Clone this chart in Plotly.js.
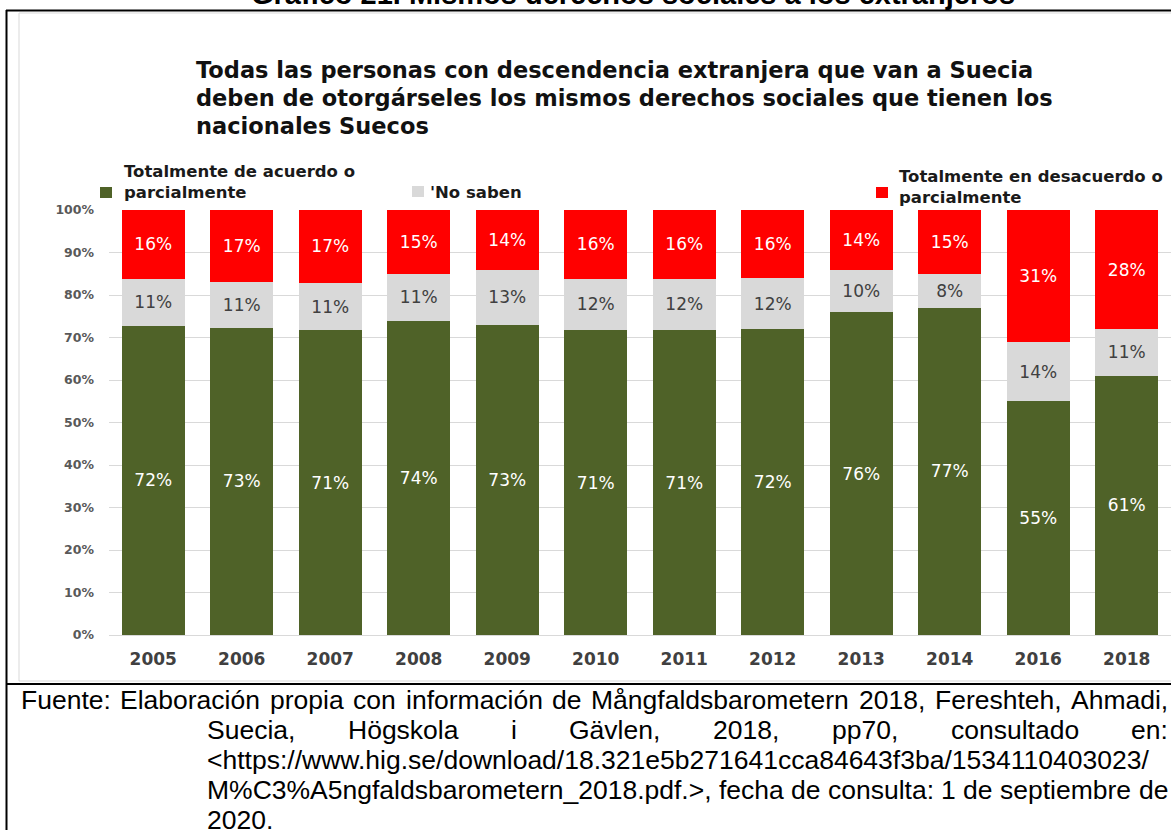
<!DOCTYPE html>
<html>
<head>
<meta charset="utf-8">
<script src="https://cdn.plot.ly/plotly-3.0.1.min.js"></script>
<style>
html,body{margin:0;padding:0;background:#ffffff;}
#chart{width:1171px;height:830px;}
</style>
</head>
<body>
<div id="chart"></div>
<script>
// ---- Data ----
const years = ['2005','2006','2007','2008','2009','2010','2011','2012','2013','2014','2016','2018'];
const acuerdo    = [72,73,71,74,73,71,71,72,76,77,55,61];
const noSaben    = [11,11,11,11,13,12,12,12,10,8,14,11];
const desacuerdo = [16,17,17,15,14,16,16,16,14,15,31,28];
const seriesNames = ['Totalmente de acuerdo o parcialmente', "'No saben", 'Totalmente en desacuerdo o parcialmente'];
const legendLines = [['Totalmente de acuerdo o','parcialmente'], ["'No saben"], ['Totalmente en desacuerdo o','parcialmente']];
const topTitle = 'Gráfico 21. Mismos derechos sociales a los extranjeros';
const subtitleLines = [
  'Todas las personas con descendencia extranjera que van a Suecia',
  'deben de otorgárseles los mismos derechos sociales que tienen los',
  'nacionales Suecos'
];
const sourceLines = [
  'Fuente: Elaboración propia con información de Mångfaldsbarometern 2018, Fereshteh, Ahmadi,',
  'Suecia, Högskola i Gävlen, 2018, pp70, consultado en:',
  '<https://www.hig.se/download/18.321e5b271641cca84643f3ba/1534110403023/',
  'M%C3%A5ngfaldsbarometern_2018.pdf.>, fecha de consulta: 1 de septiembre de',
  '2020.'
];

// ---- Geometry helpers ----
const W = 1171, H = 830;
const px = x => x / W;
const py = y => 1 - y / H;

const colors = ['#4F6228', '#D9D9D9', '#FF0000'];
const labelColors = ['#ffffff', '#404040', '#ffffff'];
const FONT = 'DejaVu Sans';

const seriesVals = [acuerdo, noSaben, desacuerdo];
const traces = seriesVals.map((vals, i) => ({
  type: 'bar',
  x: years,
  y: vals,
  name: seriesNames[i],
  marker: {color: colors[i], line: {width: 0}},
  text: vals.map(v => v + '%'),
  textposition: 'inside',
  insidetextanchor: 'middle',
  textangle: 0,
  constraintext: 'none',
  textfont: {family: FONT, size: 17, color: labelColors[i]},
  hoverinfo: 'skip'
}));

const annotations = [];
const shapes = [];

// Top (cut) title
annotations.push({
  xref: 'paper', yref: 'paper', x: px(633), y: py(-6), xanchor: 'center', yanchor: 'middle',
  text: '<b>' + topTitle + '</b>', showarrow: false,
  font: {family: 'Liberation Sans', size: 29, color: '#000000'}
});

// Subtitle
const subY = [70, 98, 126];
subtitleLines.forEach((t, i) => {
  annotations.push({
    xref: 'paper', yref: 'paper', x: px(195), y: py(subY[i]), xanchor: 'left', yanchor: 'middle',
    text: t, showarrow: false, borderpad: 0,
    font: {family: FONT, size: 22.5, color: '#111111', weight: 'bold'}
  });
});

// Legend (custom)
const legSq = [[100, 187], [412, 186], [876, 187]];
const legTextX = [123, 429, 898];
const legTextY = [[172, 193], [192], [176, 197]];
legendLines.forEach((lines, i) => {
  shapes.push({
    type: 'rect', xref: 'paper', yref: 'paper',
    x0: px(legSq[i][0]), x1: px(legSq[i][0] + 12), y0: py(legSq[i][1]), y1: py(legSq[i][1] + 11),
    fillcolor: colors[i], line: {width: 0}
  });
  lines.forEach((t, j) => {
    annotations.push({
      xref: 'paper', yref: 'paper', x: px(legTextX[i]), y: py(legTextY[i][j]), xanchor: 'left', yanchor: 'middle',
      text: t, showarrow: false, borderpad: 0,
      font: {family: FONT, size: 16.5, color: '#1a1a1a', weight: 'bold'}
    });
  });
});

// Source text (justified lines)
const canvas = document.createElement('canvas');
const ctx = canvas.getContext('2d');
const SRC_SIZE = 26.5;
ctx.font = SRC_SIZE + 'px "Liberation Sans"';
const srcLayout = [
  {x0: 20, x1: 1167, y: 700, justify: true},
  {x0: 206, x1: 1167, y: 730, justify: true},
  {x0: 206, x1: 1167, y: 760, justify: false},
  {x0: 206, x1: 1167, y: 790, justify: true},
  {x0: 206, x1: 1167, y: 820, justify: false}
];
sourceLines.forEach((line, i) => {
  const L = srcLayout[i];
  const words = line.split(' ');
  const widths = words.map(w => ctx.measureText(w).width);
  const total = widths.reduce((a, b) => a + b, 0);
  const spaceW = ctx.measureText(' ').width;
  const gap = (L.justify && words.length > 1) ? (L.x1 - L.x0 - total) / (words.length - 1) : spaceW;
  let cx = L.x0;
  words.forEach((w, k) => {
    annotations.push({
      xref: 'paper', yref: 'paper', x: px(cx), y: py(L.y), xanchor: 'left', yanchor: 'middle',
      text: w.replace(/</g, '&lt;').replace(/>/g, '&gt;'), showarrow: false, borderpad: 0,
      font: {family: 'Liberation Sans', size: SRC_SIZE, color: '#000000'}
    });
    cx += widths[k] + gap;
  });
});

// Frame lines
const line = (x0, y0, x1, y1, color, width) => ({
  type: 'line', xref: 'paper', yref: 'paper', x0: px(x0), y0: py(y0), x1: px(x1), y1: py(y1),
  line: {color: color, width: width}
});
shapes.push(line(19, 13, 19, 681, '#d9d9d9', 1));
shapes.push(line(19, 13, 1171, 13, '#d9d9d9', 1));
shapes.push(line(19, 681, 1171, 681, '#d9d9d9', 1));
shapes.push(line(6.5, 10, 6.5, 830, '#000000', 2));
shapes.push(line(6, 10.5, 1171, 10.5, '#000000', 2));
shapes.push(line(6, 684, 1171, 684, '#000000', 2));

const layout = {
  width: W, height: H,
  margin: {l: 0, r: 0, t: 0, b: 0, pad: 0},
  paper_bgcolor: '#ffffff', plot_bgcolor: '#ffffff',
  barmode: 'stack', barnorm: 'percent', bargap: 0.29,
  showlegend: false,
  hovermode: false,
  xaxis: {
    domain: [px(109), 1], type: 'category', showgrid: false, showline: false, zeroline: false,
    ticks: '', ticklabelstandoff: 12, fixedrange: true,
    tickfont: {family: FONT, size: 17, color: '#404040', weight: 'bold'}
  },
  yaxis: {
    domain: [py(635), py(210)], range: [0, 100], dtick: 10, tick0: 0, ticksuffix: '%',
    showgrid: true, gridcolor: '#d9d9d9', gridwidth: 1, zeroline: true, zerolinecolor: '#d9d9d9', zerolinewidth: 1,
    showline: false, ticks: '', ticklabelstandoff: 14, fixedrange: true,
    tickfont: {family: FONT, size: 12.5, color: '#595959', weight: 'bold'}
  },
  annotations: annotations,
  shapes: shapes
};

Plotly.newPlot('chart', traces, layout, {displayModeBar: false, staticPlot: true});
</script>
</body>
</html>
